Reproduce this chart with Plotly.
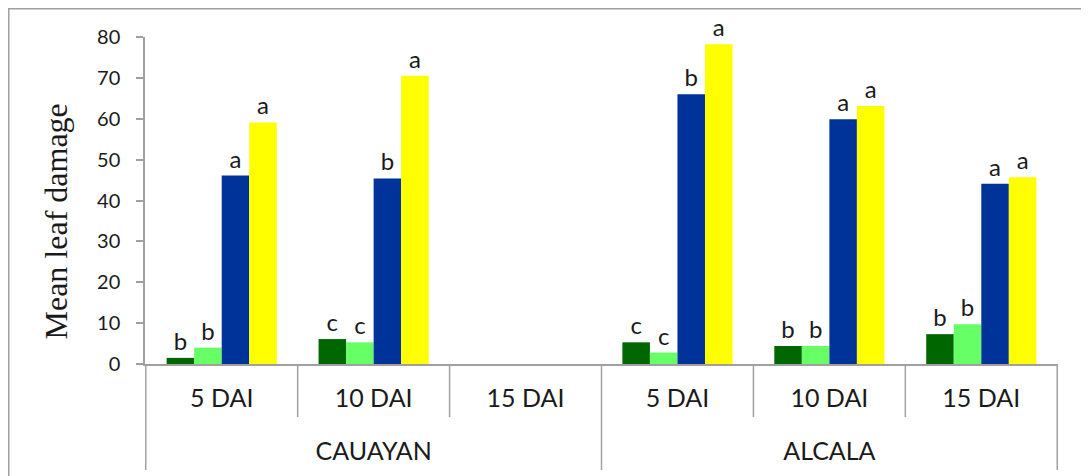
import plotly.graph_objects as go

# ---- data ----
sites = ["CAUAYAN", "CAUAYAN", "CAUAYAN", "ALCALA", "ALCALA", "ALCALA"]
days = ["5 DAI", "10 DAI", "15 DAI", "5 DAI", "10 DAI", "15 DAI"]

series_names = ["Treatment 1", "Treatment 2", "Treatment 3", "Treatment 4"]
t1_values = [1.5, 6.1, None, 5.3, 4.4, 7.3]
t2_values = [4.0, 5.3, None, 2.8, 4.4, 9.7]
t3_values = [46.1, 45.4, None, 66.0, 59.9, 44.1]
t4_values = [59.1, 70.5, None, 78.2, 63.1, 45.7]

t1_letters = ["b", "c", "", "c", "b", "b"]
t2_letters = ["b", "c", "", "c", "b", "b"]
t3_letters = ["a", "b", "", "b", "a", "a"]
t4_letters = ["a", "a", "", "a", "a", "a"]

y_ticks = [0, 10, 20, 30, 40, 50, 60, 70, 80]
y_title = "Mean leaf damage"

# ---- styles ----
colors = ["#006600", "#66FF66", "#003399", "#FFFF00"]
axis_gray = "#A0A0A0"
text_col = "#1a1a1a"
sans = "Lato, 'Open Sans', sans-serif"
serif = "'Liberation Serif', 'Times New Roman', serif"

# page has an 8px body margin, so the figure is sized/offset accordingly
W, H = 1081, 468
ml, mr, mt, mb = 137, 31, 29, 112

values = [t1_values, t2_values, t3_values, t4_values]
letters = [t1_letters, t2_letters, t3_letters, t4_letters]

# inner labels get an empty second line so the outer row sits lower
day_labels = [d + "<br>\u00a0" for d in days]

fig = go.Figure()
for name, vals, lets, col in zip(series_names, values, letters, colors):
    fig.add_trace(go.Bar(
        name=name,
        x=[sites, day_labels],
        y=vals,
        marker=dict(color=col, line=dict(width=0)),
        text=lets,
        textposition="outside",
        textfont=dict(family=sans, size=24, color=text_col),
        cliponaxis=False,
        hoverinfo="y+name",
    ))

# category separators: short ones between days within a site, long ones between sites
n = len(days)
for i in range(0, n + 1):
    outer = i == 0 or i == n or sites[i] != sites[i - 1]
    fig.add_shape(
        type="line", xref="x", yref="paper",
        ysizemode="pixel", yanchor=0,
        x0=i - 0.5, x1=i - 0.5, y0=0, y1=-106 if outer else -53,
        line=dict(color=axis_gray, width=1.5),
    )

# outer frame (pixel -> paper conversion)
pw = W - ml - mr
ph = H - mt - mb


def px_to_paper_x(p):
    return (p - ml) / pw


def px_to_paper_y(p):
    return (H - mb - p) / ph


fig.add_shape(
    type="rect", xref="paper", yref="paper",
    x0=px_to_paper_x(0.75), x1=px_to_paper_x(W - 0.75),
    y0=px_to_paper_y(H + 5), y1=px_to_paper_y(0.75),
    line=dict(color=axis_gray, width=1.5),
    fillcolor="rgba(0,0,0,0)", layer="below",
)

# y-axis title (placed as annotation so it can sit slightly below centre, like the original)
fig.add_annotation(
    text=y_title, textangle=-90, showarrow=False,
    xref="paper", yref="paper",
    x=px_to_paper_x(47), y=px_to_paper_y(213.5),
    xanchor="center", yanchor="middle",
    font=dict(family=serif, size=32, color=text_col),
)

fig.update_layout(
    width=W, height=H,
    margin=dict(l=ml, r=mr, t=mt, b=mb, pad=0, autoexpand=False),
    paper_bgcolor="white", plot_bgcolor="white",
    barmode="group", bargap=0.275, bargroupgap=0,
    showlegend=False,
    font=dict(family=sans, color=text_col),
)

fig.update_xaxes(
    type="multicategory", automargin=False,
    showline=True, linecolor=axis_gray, linewidth=1.5,
    ticks="", showgrid=False, zeroline=False,
    showdividers=False,
    tickfont=dict(family=sans, size=25, color=text_col),
    ticklabelstandoff=11,
)

fig.update_yaxes(
    automargin=False,
    range=[0, 80], tickvals=y_ticks, ticktext=[str(v) for v in y_ticks],
    showline=True, linecolor=axis_gray, linewidth=1.5,
    ticks="outside", ticklen=7, tickcolor=axis_gray, tickwidth=1.5,
    showgrid=False, zeroline=False,
    tickfont=dict(family=sans, size=20, color=text_col),
    ticklabelstandoff=12,
)

fig.write_html("out.html")
